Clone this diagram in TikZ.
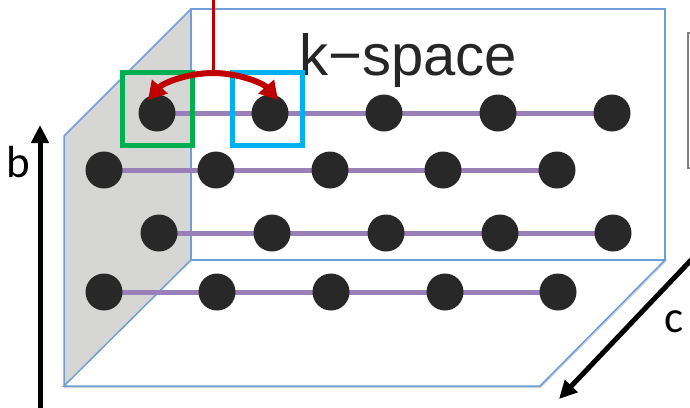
\documentclass[tikz,border=0pt]{standalone}
\usepackage{fontspec}
\setmainfont{Liberation Sans}
\newfontfamily\labelfont{Carlito}
\usetikzlibrary{arrows.meta}
\definecolor{wallblue}{HTML}{6F9FD8}
\definecolor{wallgrey}{HTML}{D6D6D4}
\definecolor{rowpurple}{HTML}{9A80B8}
\definecolor{dotdark}{HTML}{282828}
\definecolor{markgreen}{HTML}{00B050}
\definecolor{markblue}{HTML}{00B0F0}
\definecolor{markred}{HTML}{C00000}
\definecolor{textdark}{HTML}{262626}
\definecolor{framegrey}{HTML}{7F7F7F}

\begin{document}
\begin{tikzpicture}[x=1pt,y=1pt,
  wall/.style={draw=wallblue,line width=1.5pt,line join=miter},
  kdot/.style={circle,fill=dotdark,minimum size=37pt,inner sep=0pt},
  rowline/.style={draw=rowpurple,line width=5pt},
  axisarrow/.style={line width=5pt,-{Triangle[length=18pt,width=17pt]}},
  markbox/.style={draw,line width=5pt,minimum width=70pt,minimum height=73pt,inner sep=0pt},
  hop/.style={draw=markred,line width=6pt,-{Triangle[length=18pt,width=20pt]}},
  axislabel/.style={font=\labelfont\fontsize{45}{45}\selectfont,anchor=base,inner sep=0pt}]

% canvas
\fill[white] (0,0) rectangle (690,-407);
\useasboundingbox (0,0) rectangle (690,-407);

% box corners
\coordinate (BTL) at (191,-9);
\coordinate (BTR) at (665,-9);
\coordinate (BBR) at (665,-260);
\coordinate (BBL) at (191,-260);
\coordinate (FTL) at (64,-136);
\coordinate (FBL) at (64,-386);
\coordinate (FBR) at (540,-386);

% left wall
\fill[wallgrey] (BTL) -- (FTL) -- (FBL) -- (BBL) -- cycle;
\draw[wall] (BTL) -- (FTL) -- (FBL);
% back wall
\draw[wall] (BTL) rectangle (BBR);
% floor with its soft shadow
\draw[gray,line width=4pt,opacity=0.35,shift={(1,-3)}] (FBL) -- (FBR) -- (BBR);
\filldraw[wall,fill=white] (BBL) -- (BBR) -- (FBR) -- (FBL) -- cycle;

% lattice points
\foreach \r/\y/\xs in {1/113/{157,270,384,498,612},
                       2/170/{104,216,330,443,557},
                       3/233/{159,272,386,500,613},
                       4/292/{104,217,331,445,558}}{
  \foreach \x [count=\i] in \xs {\coordinate (p\r\i) at (\x,-\y);}
}
\foreach \r in {1,2,3,4} \draw[rowline] (p\r1) -- (p\r5);
\foreach \r in {1,2,3,4} \foreach \i in {1,...,5} \node[kdot] (d\r\i) at (p\r\i) {};

% title
\node[font=\fontsize{58}{58}\selectfont,text=textdark,anchor=base west,inner sep=0pt] (title) at (299,-75) {k−space};

% highlighted sites
\node[markbox,draw=markgreen] (gbox) at (157.5,-109) {};
\node[markbox,draw=markblue] (bbox) at (267.5,-109) {};

% red hop arrows
\coordinate (feed) at (213,2);
\coordinate (apex) at (213,-73);
\coordinate (ltip) at (148,-100);
\coordinate (rtip) at (278,-100);
\draw[markred,line width=3pt] (feed) -- (apex);
\draw[hop] (apex) .. controls (188,-73) and (163,-83) .. (ltip);
\draw[hop] (apex) .. controls (238,-73) and (263,-83) .. (rtip);

% axes
\coordinate (bfoot) at (40,-412);
\coordinate (btip) at (40,-125);
\draw[axisarrow] (bfoot) -- (btip);
\node[axislabel] (blabel) at (18,-177) {b};
\coordinate (cfoot) at (694,-257);
\coordinate (ctip) at (559,-399);
\draw[axisarrow] (cfoot) -- (ctip);
\node[axislabel] (clabel) at (674,-332) {c};

% edge of a neighbouring frame
\coordinate (fa) at (696,-33);
\coordinate (fb) at (688,-168);
\coordinate (fc) at (696,-168);
\draw[framegrey,line width=1.5pt] (fa) -| (fb) -- (fc);
\end{tikzpicture}
\end{document}
